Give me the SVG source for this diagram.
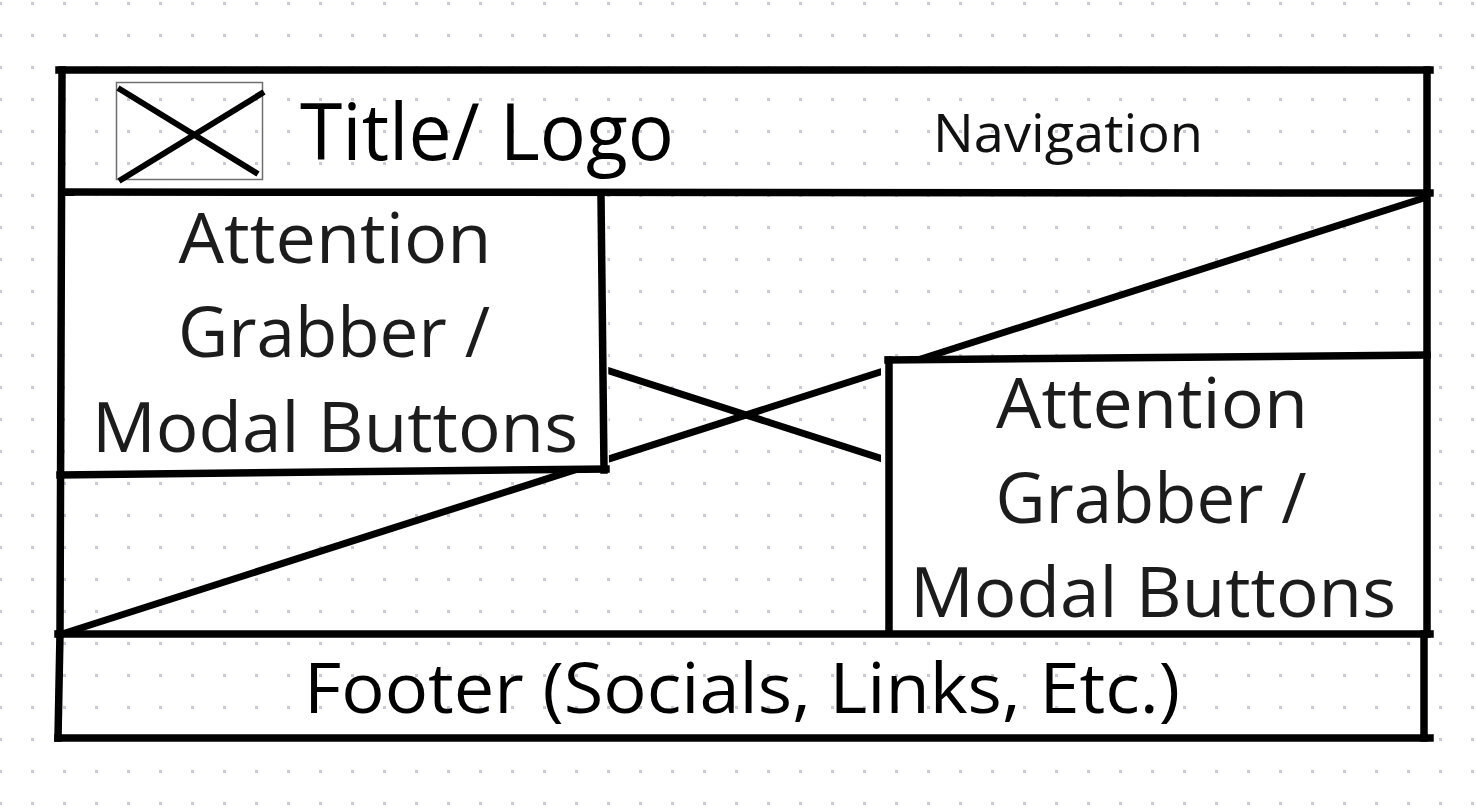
<svg xmlns="http://www.w3.org/2000/svg" width="1477" height="811" viewBox="0 0 1477 811">
  <style>
    .ln { stroke: #000; stroke-width: 7.5; fill: none; stroke-linecap: square; }
    .xl { stroke: #000; stroke-width: 7; fill: none; }
    .txt { font-family: "Open Sans", "Noto Sans", "DejaVu Sans", sans-serif; fill: #1c1c1c; }
    .box { fill: #fff; stroke: none; }
  </style>
  <defs>
    <pattern id="dots" x="-1" y="2" width="32" height="32" patternUnits="userSpaceOnUse">
      <rect x="0" y="0" width="3" height="3" fill="#c8cad5"/>
    </pattern>
  </defs>
  <rect x="0" y="0" width="1477" height="811" fill="#fff"/>
  <rect x="0" y="0" width="1477" height="811" fill="url(#dots)"/>

  <g id="connectors">
    <line class="xl" x1="62" y1="195" x2="1427" y2="634"/>
    <line class="xl" x1="62" y1="634" x2="1427" y2="197"/>
  </g>

  <g id="modal-left">
    <polygon class="box" points="65,196 607,196 609,471 65,474"/>
    <line class="ln" x1="601" y1="196" x2="604" y2="470"/>
    <line class="ln" x1="60" y1="475" x2="606" y2="469"/>
    <text class="txt" x="335" y="263" font-size="70" text-anchor="middle" textLength="313" lengthAdjust="spacingAndGlyphs">Attention</text>
    <text class="txt" x="334" y="357" font-size="70" text-anchor="middle" textLength="312" lengthAdjust="spacingAndGlyphs">Grabber /</text>
    <text class="txt" x="335" y="452" font-size="70" text-anchor="middle" textLength="486" lengthAdjust="spacingAndGlyphs">Modal Buttons</text>
  </g>

  <g id="modal-right">
    <polygon class="box" points="881,358 1424,353 1424,632 881,632"/>
    <line class="ln" x1="889" y1="360" x2="889" y2="633"/>
    <line class="ln" x1="888" y1="360" x2="1427" y2="355"/>
    <text class="txt" x="1152" y="428" font-size="70" text-anchor="middle" textLength="312" lengthAdjust="spacingAndGlyphs">Attention</text>
    <text class="txt" x="1151" y="523" font-size="70" text-anchor="middle" textLength="311" lengthAdjust="spacingAndGlyphs">Grabber /</text>
    <text class="txt" x="1153" y="617" font-size="70" text-anchor="middle" textLength="486" lengthAdjust="spacingAndGlyphs">Modal Buttons</text>
  </g>

  <g id="header">
    <line class="ln" x1="59" y1="70" x2="1430" y2="70"/>
    <line class="ln" x1="62" y1="70" x2="60" y2="634"/>
    <line class="ln" x1="1427" y1="70" x2="1427" y2="634"/>
    <line class="ln" x1="62" y1="192" x2="1430" y2="193"/>
    <rect x="116.5" y="82.5" width="146" height="97" fill="none" stroke="#6f6f6f" stroke-width="1.5"/>
    <line stroke="#000" stroke-width="6" x1="118" y1="88" x2="258" y2="174"/>
    <line stroke="#000" stroke-width="6" x1="119" y1="181" x2="264" y2="92"/>
    <text class="txt" x="300" y="160" font-size="79" style="fill:#000" textLength="374" lengthAdjust="spacingAndGlyphs">Title/ Logo</text>
    <text class="txt" x="933" y="152" font-size="53" style="fill:#111" textLength="270" lengthAdjust="spacingAndGlyphs">Navigation</text>
  </g>

  <g id="footer">
    <line class="ln" x1="58" y1="634" x2="1430" y2="634"/>
    <line class="ln" x1="60" y1="634" x2="58" y2="738"/>
    <line class="ln" x1="1424" y1="634" x2="1424" y2="738"/>
    <line class="ln" x1="58" y1="738" x2="1430" y2="738"/>
    <text class="txt" x="742" y="713" font-size="69" style="fill:#000" text-anchor="middle" textLength="876" lengthAdjust="spacingAndGlyphs">Footer (Socials, Links, Etc.)</text>
  </g>
</svg>
